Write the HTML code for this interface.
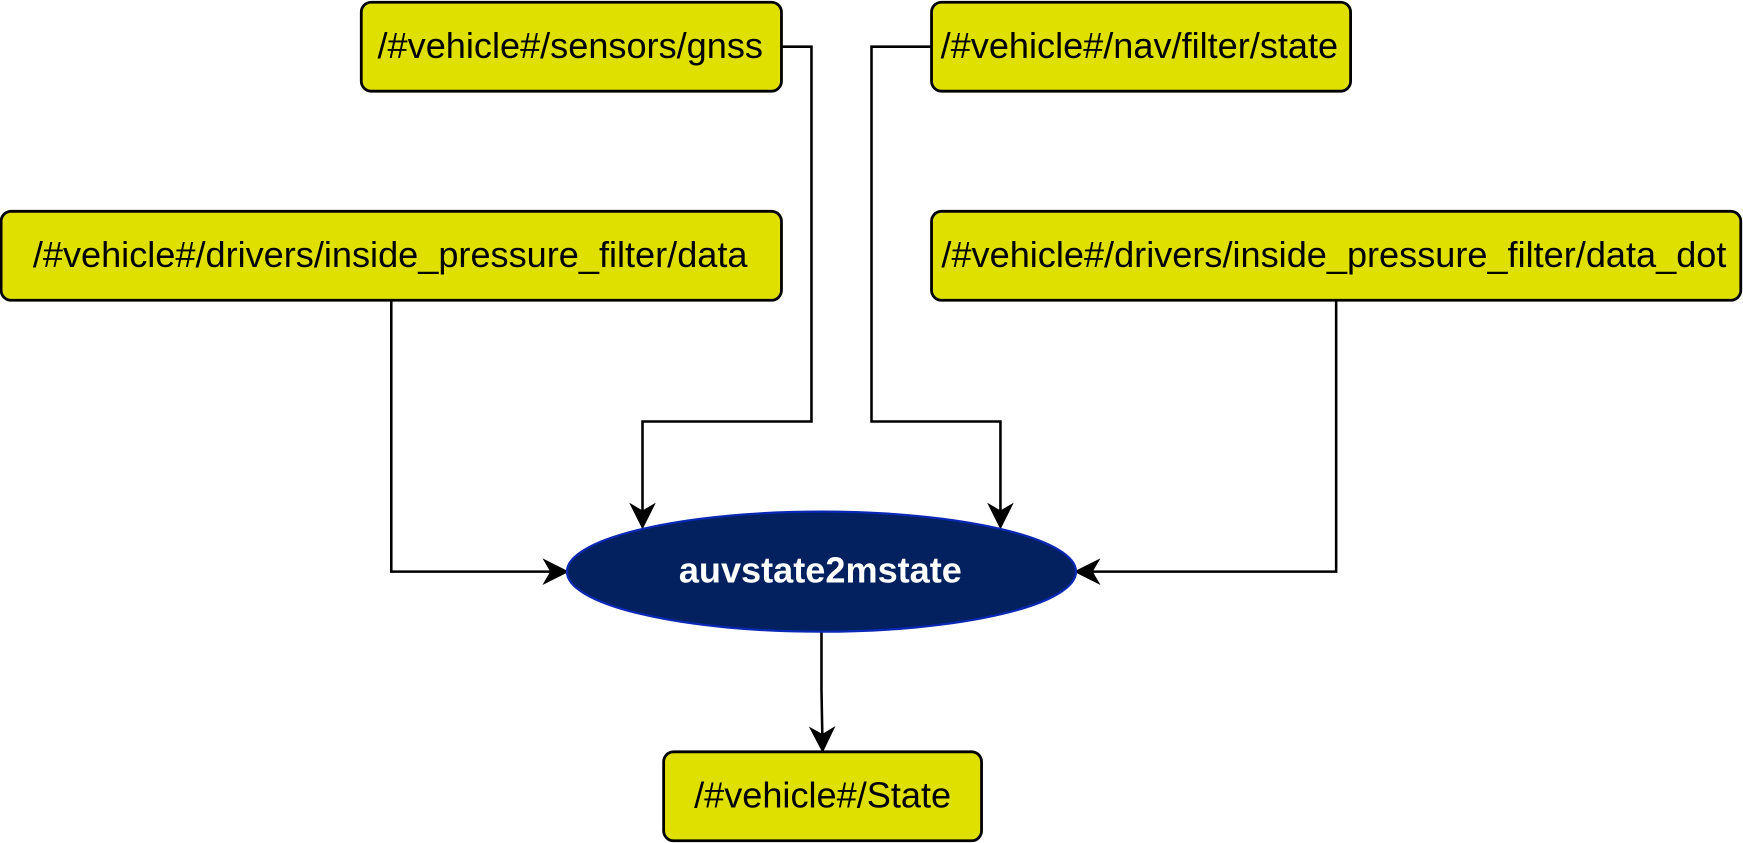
<!DOCTYPE html>
<html><head><meta charset="utf-8"><style>
html,body{margin:0;padding:0;background:#fff;width:1743px;height:843px;overflow:hidden}
svg{display:block}
text{font-family:"Liberation Sans",sans-serif}
</style></head><body>
<svg width="1743" height="843" viewBox="0 0 1568 758" preserveAspectRatio="none" xmlns="http://www.w3.org/2000/svg">
<defs>
<marker id="a" viewBox="0 0 24 24" refX="22" refY="12" markerWidth="24" markerHeight="24" markerUnits="userSpaceOnUse" orient="auto">
<path d="M0,0 L24,12 L0,24 L7,12 Z" fill="#000"/>
</marker>
</defs>
<g fill="none" stroke="#000" stroke-width="2.3">
<path d="M703,42 H730 V379 H578 V474" marker-end="url(#a)"/>
<path d="M838,42 H784 V379 H900 V474" marker-end="url(#a)"/>
<path d="M352,270 V514 H510" marker-end="url(#a)"/>
<path d="M1202,270 V514 H968" marker-end="url(#a)"/>
<path d="M739,568 V620 L740,675" marker-end="url(#a)"/>
</g>
<g fill="#e0e000" stroke="#000" stroke-width="2.5">
<rect x="325" y="2" width="378" height="80" rx="9"/>
<rect x="838" y="2" width="377" height="80" rx="9"/>
<rect x="1" y="190" width="702" height="80" rx="9"/>
<rect x="838" y="190" width="728" height="80" rx="9"/>
<rect x="597" y="676" width="286" height="80" rx="9"/>
</g>
<ellipse cx="739" cy="514" rx="229" ry="54" fill="#03215f" stroke="#0a28b4" stroke-width="2"/>
<g font-size="32.5" text-anchor="middle" fill="#000">
<text x="513" y="52">/#vehicle#/sensors/gnss</text>
<text x="1025" y="52">/#vehicle#/nav/filter/state</text>
<text x="351" y="240">/#vehicle#/drivers/inside_pressure_filter/data</text>
<text x="1200" y="240">/#vehicle#/drivers/inside_pressure_filter/data_dot</text>
<text x="740" y="726">/#vehicle#/State</text>
<text x="738" y="524" fill="#fff" font-weight="bold">auvstate2mstate</text>
</g>
</svg>
</body></html>
